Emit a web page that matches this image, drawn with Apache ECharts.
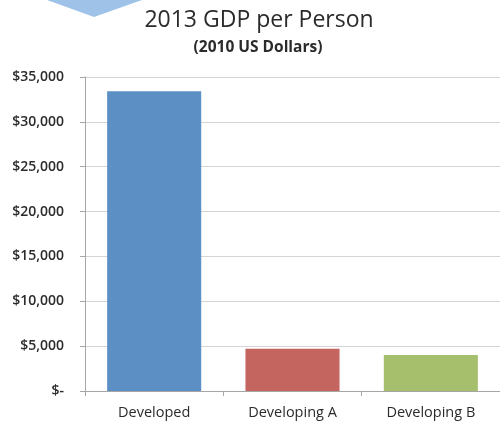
<!DOCTYPE html>
<html>
<head>
<meta charset="utf-8">
<script src="https://cdn.jsdelivr.net/npm/echarts@6/dist/echarts.min.js"></script>
<style>html,body{margin:0;padding:0;background:#fff;}#c{width:500px;height:423px;}</style>
</head>
<body>
<div id="c"></div>
<script>
var categories = ['Developed', 'Developing A', 'Developing B'];
var gdpValues = [33400, 4700, 4000];
var barColors = ['#5c8fc3', '#c4655f', '#a6bf6d'];
var yTicks = [0, 5000, 10000, 15000, 20000, 25000, 30000, 35000];

var chart = echarts.init(document.getElementById('c'));
var FONT = 'Open Sans';
chart.setOption({
  animation: false,
  backgroundColor: '#fff',
  graphic: [{
    type: 'polygon',
    shape: { points: [[47, 0], [142, 0], [94, 17]] },
    style: { fill: '#9fc3e8' }
  }],
  title: [{
    text: '2013 GDP per Person',
    left: 254, top: 4, textAlign: 'center',
    textStyle: { fontFamily: FONT, fontSize: 23, fontWeight: 'normal', color: '#2b2b2b' }
  }, {
    text: '(2010 US Dollars)',
    left: 253, top: 35, textAlign: 'center',
    textStyle: { fontFamily: FONT, fontSize: 15.5, fontWeight: 'bold', color: '#2b2b2b' }
  }],
  grid: { left: 85, right: 0, top: 77, bottom: 32, containLabel: false },
  xAxis: {
    type: 'category',
    data: categories,
    axisLine: { lineStyle: { color: '#a6a6a6' } },
    axisTick: { show: true, length: 5, alignWithLabel: false, lineStyle: { color: '#a6a6a6' } },
    axisLabel: { fontFamily: FONT, fontSize: 14.5, color: '#2b2b2b', margin: 14 }
  },
  yAxis: {
    type: 'value',
    min: 0, max: 35000, interval: 5000,
    axisLine: { show: true, lineStyle: { color: '#a6a6a6' } },
    axisTick: { show: true, length: 5, lineStyle: { color: '#a6a6a6' } },
    splitLine: { lineStyle: { color: '#d4d4d4' } },
    axisLabel: {
      fontFamily: FONT, fontSize: 14, fontWeight: 600, color: '#2b2b2b', margin: 21,
      formatter: function (v) { return v === 0 ? '$-' : '$' + v.toLocaleString('en-US'); }
    }
  },
  series: [{
    type: 'bar',
    barCategoryGap: '32%',
    data: gdpValues.map(function (v, i) { return { value: v, itemStyle: { color: barColors[i] } }; })
  }]
});
</script>
</body>
</html>
